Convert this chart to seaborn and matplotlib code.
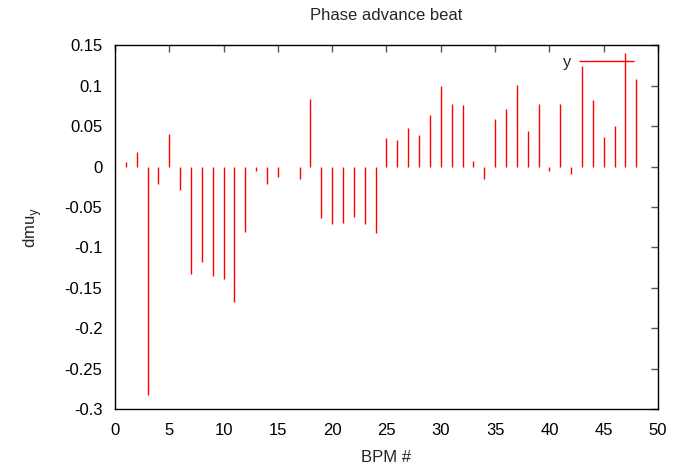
import matplotlib
matplotlib.use("Agg")
import matplotlib.pyplot as plt
import numpy as np
import seaborn as sns

# BPM index and phase advance beat
bpm = [1, 2, 3, 4, 5, 6, 7, 8, 9, 10, 11, 12, 13, 14, 15, 17, 18, 19, 20,
       21, 22, 23, 24, 25, 26, 27, 28, 29, 30, 31, 32, 33, 34, 35, 36, 37,
       38, 39, 40, 41, 42, 43, 44, 45, 46, 47, 48]
dmu_y = [0.006, 0.018, -0.282, -0.021, 0.040, -0.029, -0.133, -0.118, -0.136,
         -0.139, -0.168, -0.081, -0.005, -0.021, -0.013, -0.016, 0.084,
         -0.064, -0.071, -0.070, -0.063, -0.071, -0.082, 0.035, 0.033,
         0.048, 0.039, 0.064, 0.100, 0.078, 0.076, 0.007, -0.015, 0.059,
         0.071, 0.101, 0.044, 0.077, -0.005, 0.077, -0.009, 0.125, 0.082,
         0.036, 0.050, 0.141, 0.108]

xticks = [0, 5, 10, 15, 20, 25, 30, 35, 40, 45, 50]
yticks = [-0.3, -0.25, -0.2, -0.15, -0.1, -0.05, 0, 0.05, 0.1, 0.15]
ytick_labels = ['-0.3', '-0.25', '-0.2', '-0.15', '-0.1', '-0.05', '0',
                '0.05', '0.1', '0.15']

sns.set_style("white")
plt.rcParams['font.family'] = ['Liberation Sans', 'DejaVu Sans']
fs = 12

fig = plt.figure(figsize=(6.76, 4.74), dpi=100)
ax = fig.add_axes([0.170, 0.137, 0.8034, 0.7674])

ax.vlines(bpm, 0, dmu_y, color='red', lw=1.0, label='y')

ax.set_xlim(0, 50)
ax.set_ylim(-0.3, 0.15)
ax.set_xticks(xticks)
ax.set_xticklabels([str(t) for t in xticks])
ax.set_yticks(yticks)
ax.set_yticklabels(ytick_labels)
ax.tick_params(direction='in', length=5, width=1, top=True, right=True,
               labelsize=fs, colors='black')
ax.tick_params(color='#555555')
ax.tick_params(axis='x', pad=10)
ax.tick_params(axis='y', pad=9)
for s in ax.spines.values():
    s.set_color('black')
    s.set_linewidth(1.0)

ax.set_title('Phase advance beat', fontsize=fs, pad=18)
ax.set_xlabel('BPM #', fontsize=fs, labelpad=9)
ax.set_ylabel(r'dmu$_\mathrm{y}$', fontsize=fs, labelpad=15)

ax.legend(loc='upper right', frameon=False, markerfirst=False,
          handlelength=3.3, handletextpad=0.5, fontsize=fs,
          bbox_to_anchor=(0.975, 1.0), borderaxespad=0.2)

fig.savefig('out.png', dpi=100)
